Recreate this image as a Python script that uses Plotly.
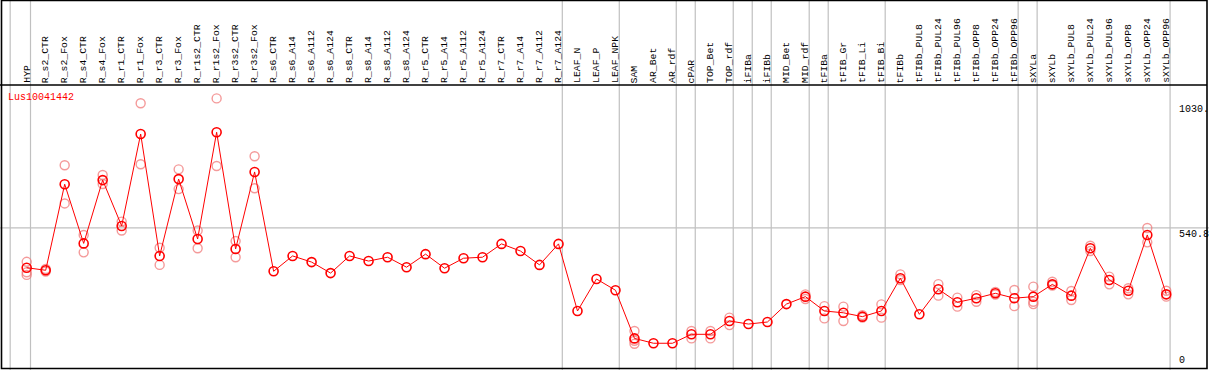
import plotly.graph_objects as go

categories = ["HYP", "R_s2_CTR", "R_s2_Fox", "R_s4_CTR", "R_s4_Fox", "R_r1_CTR", "R_r1_Fox",
              "R_r3_CTR", "R_r3_Fox", "R_r1s2_CTR", "R_r1s2_Fox", "R_r3s2_CTR", "R_r3s2_Fox",
              "R_s6_CTR", "R_s6_A14", "R_s6_A112", "R_s6_A124", "R_s8_CTR", "R_s8_A14", "R_s8_A112",
              "R_s8_A124", "R_r5_CTR", "R_r5_A14", "R_r5_A112", "R_r5_A124", "R_r7_CTR", "R_r7_A14",
              "R_r7_A112", "R_r7_A124", "LEAF_N", "LEAF_P", "LEAF_NPK", "SAM", "AR_Bet", "AR_rdf",
              "cPAR", "TOP_Bet", "TOP_rdf", "iFIBa", "iFIBb", "MID_Bet", "MID_rdf", "tFIBa",
              "tFIB_Gr", "tFIB_Li", "tFIB_Bi", "tFIBb", "tFIBb_PUL8", "tFIBb_PUL24", "tFIBb_PUL96",
              "tFIBb_OPP8", "tFIBb_OPP24", "tFIBb_OPP96", "sXYLa", "sXYLb", "sXYLb_PUL8",
              "sXYLb_PUL24", "sXYLb_PUL96", "sXYLb_OPP8", "sXYLb_OPP24", "sXYLb_OPP96"]

mean_values = [385, 375, 711, 480, 727, 548, 907, 431, 731, 497, 914, 458, 759,
               371, 431, 407, 364, 431, 411, 426, 387, 438, 383, 422, 426, 478, 450, 396, 478,
               216, 341, 297, 109, 90, 90, 125, 125, 177, 165, 173, 243, 272, 216, 209, 194, 216,
               344, 203, 301, 250, 266, 285, 266, 272, 320, 276, 461, 337, 295, 513, 281]

rep_a = [408, 380, 785, 513, 747, 565, 1027, 463, 769, 530, 1046, 489, 820,
         None, None, None, None, None, None, None, None, None, None, None, None, None, None, None, None,
         None, None, None, 138, None, None, 138, 138, 190, None, None, None, 281, 235, 233, 200, 242,
         359, None, 321, 268, 278, 290, 298, 311, 330, 294, 471, 350, 305, 540, 295]
rep_b = [367, 370, 636, 445, 712, 530, 789, 396, 692, 461, 782, 426, 695,
         None, None, None, None, None, None, None, None, None, None, None, None, None, None, None, None,
         None, None, None, 100, None, None, 109, 109, 161, None, None, None, 263, 187, 177, 190, 190,
         337, None, 276, 233, 252, 280, 235, 252, 315, 259, 450, 320, 281, 484, 272]
rep_c = [357, None, None, None, None, None, None, None, None, None, None, None, None,
         None, None, None, None, None, None, None, None, None, None, None, None, None, None, None, None,
         None, None, None, 88, None, None, None, None, None, None, None, None, None, None, None, None, None,
         None, None, None, None, None, None, None, 243, None, None, None, None, None, None, None]

# group separators (category index after which a line is drawn)
separator_after = [-1, 0, 28, 31, 34, 35, 37, 38, 39, 41, 42, 45, 52, 53, 60]

gene_label = "Lus10041442"
y_tick_values = [1030, 540.8, 0]
y_tick_labels = ["1030.", "540.8", "0"]
reference_value = 540.8

W, H = 1209, 370
FONT = "Liberation Mono, DejaVu Sans Mono, monospace"
idx = list(range(len(categories)))

fig = go.Figure()

pink = "rgba(240,120,120,0.75)"
for reps in (rep_a, rep_b, rep_c):
    fig.add_trace(go.Scatter(
        x=idx, y=reps, mode="markers",
        marker=dict(symbol="circle-open", size=9, color=pink, line=dict(width=1.4, color=pink)),
        hoverinfo="skip", showlegend=False))

fig.add_trace(go.Scatter(
    x=idx, y=mean_values, mode="lines+markers",
    line=dict(color="red", width=1),
    marker=dict(symbol="circle-open", size=9, color="red", line=dict(width=1.6, color="red")),
    showlegend=False))

x_lo, x_hi = -1.4058, 62.249
y_lo, y_hi = -14.4, 1430.3

shapes = []
# reference horizontal line
shapes.append(dict(type="line", xref="paper", yref="y", x0=0, x1=1, y0=reference_value, y1=reference_value,
                   line=dict(color="#c0c0c0", width=1.2), layer="below"))
# separators
for s in separator_after:
    xs = s + 0.2 if s >= 0 else s + 0.13
    shapes.append(dict(type="line", xref="x", yref="paper", x0=xs, x1=xs, y0=0, y1=1,
                       line=dict(color="#c0c0c0", width=1.2), layer="below"))
# header line
shapes.append(dict(type="line", xref="paper", yref="paper", x0=0, x1=1207 / W,
                   y0=1 - 85 / H, y1=1 - 85 / H, line=dict(color="black", width=1.5)))
# frame
shapes.append(dict(type="rect", xref="paper", yref="paper", x0=1.5 / W, x1=1207 / W,
                   y0=1 - 368.5 / H, y1=1 - 0.5 / H, line=dict(color="black", width=1.6)))

annotations = []
for i, c in enumerate(categories):
    annotations.append(dict(x=i, xref="x", y=1 - 84 / H, yref="paper", text=c, textangle=-90,
                            xanchor="center", yanchor="bottom", showarrow=False, borderpad=0,
                            font=dict(family=FONT, size=9.8, color="black")))
annotations.append(dict(x=7 / W, xref="paper", y=1 - 98 / H, yref="paper", text=gene_label,
                        xanchor="left", yanchor="middle", showarrow=False, borderpad=0,
                        font=dict(family=FONT, size=10, color="red")))
for v, t in zip(y_tick_values, y_tick_labels):
    if v == 0:
        annotations.append(dict(x=1178 / W, xref="paper", y=1 - 367 / H, yref="paper", text=t,
                                xanchor="left", yanchor="bottom", showarrow=False, borderpad=0,
                                font=dict(family=FONT, size=10, color="black")))
    else:
        annotations.append(dict(x=1178 / W, xref="paper", y=v, yref="y", text=t,
                                xanchor="left", yanchor="top", showarrow=False, borderpad=0,
                                font=dict(family=FONT, size=10, color="black")))

fig.update_layout(
    width=W, height=H, margin=dict(l=0, r=0, t=0, b=0),
    paper_bgcolor="white", plot_bgcolor="white",
    xaxis=dict(range=[x_lo, x_hi], visible=False, fixedrange=True),
    yaxis=dict(range=[y_lo, y_hi], visible=False, fixedrange=True),
    shapes=shapes, annotations=annotations, showlegend=False,
)

fig.write_html("out.html", config={"displayModeBar": False},
               post_script="document.body.style.margin='0';document.body.style.overflow='hidden';")
